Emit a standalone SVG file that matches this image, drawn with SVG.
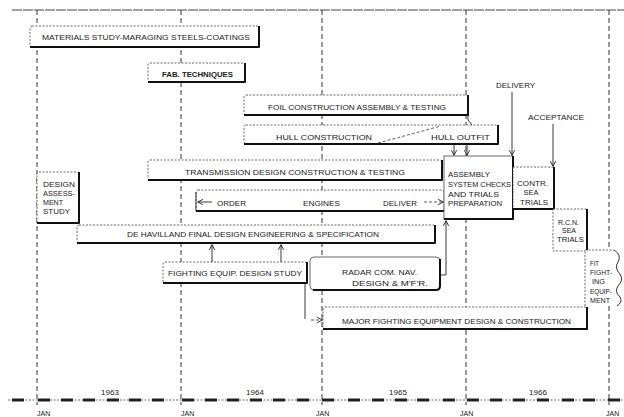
<svg xmlns="http://www.w3.org/2000/svg" width="624" height="417" viewBox="0 0 624 417">
<style>
.bx{fill:#fff;stroke:#444;stroke-width:0.8;stroke-dasharray:2 1.5}
.sh{fill:none;stroke:#111;stroke-width:2;stroke-linejoin:round}
.yl{fill:none;stroke:#333;stroke-width:1;stroke-dasharray:5 3}
.t{font-family:"Liberation Sans",Arial,sans-serif;font-size:8px;fill:#1a1a1a}
.s{font-size:7px}
.c{text-anchor:middle}
.cn{fill:none;stroke:#222;stroke-width:0.9}
.dn{fill:none;stroke:#333;stroke-width:0.8;stroke-dasharray:3 2}
.tk{fill:#222}
</style>
<defs>
<marker id="ah" viewBox="0 0 8 8" refX="7" refY="4" markerWidth="6" markerHeight="6" orient="auto" markerUnits="userSpaceOnUse"><path d="M0.5,0.5 L7.5,4 L0.5,7.5" fill="none" stroke="#222" stroke-width="1.2"/></marker>
</defs>
<rect width="624" height="417" fill="#fff"/>
<g id="timeline">
<line x1="12" y1="10" x2="624" y2="10" stroke="#444" stroke-width="1" stroke-dasharray="10 1"/>
<path class="yl" d="M37 10V405M181 10V405M322 10V405M466 10V405M609 10V405"/>
<line x1="8" y1="400" x2="624" y2="400" stroke="#444" stroke-width="0.8" stroke-dasharray="2 1.5"/>
<g class="tk">
<rect x="12" y="398.5" width="12" height="3"/>
<rect x="38" y="398.5" width="12" height="3"/><rect x="61" y="398.5" width="12" height="3"/><rect x="83" y="398.5" width="12" height="3"/><rect x="107" y="398.5" width="12" height="3"/><rect x="129" y="398.5" width="12" height="3"/><rect x="152" y="398.5" width="12" height="3"/>
<rect x="182" y="398.5" width="12" height="3"/><rect x="205" y="398.5" width="12" height="3"/><rect x="227" y="398.5" width="12" height="3"/><rect x="250" y="398.5" width="12" height="3"/><rect x="273" y="398.5" width="12" height="3"/><rect x="297" y="398.5" width="12" height="3"/>
<rect x="322" y="398.5" width="12" height="3"/><rect x="348" y="398.5" width="12" height="3"/><rect x="372" y="398.5" width="12" height="3"/><rect x="395" y="398.5" width="12" height="3"/><rect x="417" y="398.5" width="12" height="3"/><rect x="443" y="398.5" width="12" height="3"/>
<rect x="467" y="398.5" width="12" height="3"/><rect x="490" y="398.5" width="12" height="3"/><rect x="513" y="398.5" width="12" height="3"/><rect x="537" y="398.5" width="12" height="3"/><rect x="562" y="398.5" width="12" height="3"/><rect x="583" y="398.5" width="12" height="3"/>
<rect x="608" y="398.5" width="12" height="3"/>
</g>
<text class="t c" x="110" y="395">1963</text>
<text class="t c" x="255" y="395">1964</text>
<text class="t c" x="398" y="395">1965</text>
<text class="t c" x="538" y="395">1966</text>
<text class="t s" x="37" y="416">JAN</text>
<text class="t s" x="181" y="416">JAN</text>
<text class="t s" x="316" y="416">JAN</text>
<text class="t s" x="460" y="416">JAN</text>
<text class="t s" x="606" y="416">JAN</text>
</g>
<g id="materials">
<rect class="bx" x="30" y="26" width="229" height="21" rx="2"/>
<path class="sh" d="M259 26V47H30"/>
<text class="t c" x="146" y="40" textLength="208" lengthAdjust="spacingAndGlyphs">MATERIALS STUDY-MARAGING STEELS-COATINGS</text>
</g>
<g id="fab">
<rect class="bx" x="148" y="63" width="97" height="19" rx="2"/>
<path class="sh" d="M245 63V82H148"/>
<text class="t c" x="197.5" y="76.5" font-weight="bold" textLength="71" lengthAdjust="spacingAndGlyphs">FAB. TECHNIQUES</text>
</g>
<g id="foil">
<rect class="bx" x="244" y="95" width="224" height="20" rx="2"/>
<path class="sh" d="M468 95V115H244"/>
<path class="cn" d="M468 115V120L472 125"/>
<text class="t c" x="357" y="110" textLength="178" lengthAdjust="spacingAndGlyphs">FOIL CONSTRUCTION  ASSEMBLY &amp; TESTING</text>
</g>
<g id="hull">
<rect class="bx" x="244" y="125" width="254" height="19" rx="2"/>
<path class="sh" d="M498 125V144H244"/>
<path class="dn" d="M378 143L441 126"/>
<text class="t c" x="324" y="140" textLength="96" lengthAdjust="spacingAndGlyphs">HULL CONSTRUCTION</text>
<text class="t c" x="460.5" y="140" textLength="59" lengthAdjust="spacingAndGlyphs">HULL OUTFIT</text>
</g>
<g id="transmission">
<rect class="bx" x="148" y="160" width="294" height="20" rx="2"/>
<path class="sh" d="M442 160V180H148"/>
<text class="t c" x="295" y="175" textLength="220" lengthAdjust="spacingAndGlyphs">TRANSMISSION DESIGN  CONSTRUCTION &amp; TESTING</text>
</g>
<g id="engines">
<rect class="bx" x="196" y="190" width="248" height="21" rx="2"/>
<path class="sh" d="M444 211H196"/>
<path class="cn" d="M196 192V211"/>
<text class="t c" x="231.5" y="206" textLength="29" lengthAdjust="spacingAndGlyphs">ORDER</text>
<text class="t c" x="321.5" y="206" textLength="37" lengthAdjust="spacingAndGlyphs">ENGINES</text>
<text class="t c" x="400" y="206" textLength="34" lengthAdjust="spacingAndGlyphs">DELIVER</text>
</g>
<g id="assembly">
<rect class="bx" x="444" y="156" width="69" height="63" style="stroke-dasharray:none"/>
<path class="sh" d="M513 156V219H444"/>
<text class="t s" x="448" y="177" textLength="42" lengthAdjust="spacingAndGlyphs">ASSEMBLY</text>
<text class="t s" x="448" y="187" textLength="63" lengthAdjust="spacingAndGlyphs">SYSTEM CHECKS</text>
<text class="t s" x="448" y="197" textLength="51" lengthAdjust="spacingAndGlyphs">AND TRIALS</text>
<text class="t s" x="448" y="206" textLength="54" lengthAdjust="spacingAndGlyphs">PREPARATION</text>
</g>
<g id="contr">
<rect class="bx" x="513" y="167" width="41" height="42"/>
<path class="sh" d="M554 167V209H513"/>
<text class="t s c" x="532.5" y="186" textLength="31" lengthAdjust="spacingAndGlyphs">CONTR.</text>
<text class="t s c" x="531" y="195" textLength="15" lengthAdjust="spacingAndGlyphs">SEA</text>
<text class="t s c" x="534" y="205" textLength="28" lengthAdjust="spacingAndGlyphs">TRIALS</text>
</g>
<g id="rcn">
<rect class="bx" x="553" y="209" width="34" height="42"/>
<path class="sh" d="M587 209V251"/>
<text class="t s c" x="568.5" y="225" textLength="21" lengthAdjust="spacingAndGlyphs">R.C.N.</text>
<text class="t s c" x="569" y="233" textLength="14" lengthAdjust="spacingAndGlyphs">SEA</text>
<text class="t s c" x="570.5" y="242" textLength="27" lengthAdjust="spacingAndGlyphs">TRIALS</text>
</g>
<g id="fit">
<path d="M585 250H614Q622 255 618 262Q614 268 620 274Q624 280 618 286Q614 292 620 297Q623 302 617 306H585Z" fill="#fff"/>
<path class="bx" d="M585 306V250H614" style="fill:none"/>
<path class="cn" d="M614 250Q622 255 618 262Q614 268 620 274Q624 280 618 286Q614 292 620 297Q623 302 617 306"/>
<text class="t s" x="590" y="266" textLength="9" lengthAdjust="spacingAndGlyphs">FIT</text>
<text class="t s" x="590" y="275" textLength="22" lengthAdjust="spacingAndGlyphs">FIGHT-</text>
<text class="t s" x="592" y="284" textLength="13" lengthAdjust="spacingAndGlyphs">ING</text>
<text class="t s" x="590" y="294" textLength="22" lengthAdjust="spacingAndGlyphs">EQUIP-</text>
<text class="t s" x="590" y="303" textLength="20" lengthAdjust="spacingAndGlyphs">MENT</text>
</g>
<g id="design-assessment">
<rect class="bx" x="37" y="172" width="42" height="51" rx="2"/>
<path class="sh" d="M79 172V223H37"/>
<text class="t s" x="43" y="187" textLength="32" lengthAdjust="spacingAndGlyphs">DESIGN</text>
<text class="t s" x="43" y="196" textLength="32" lengthAdjust="spacingAndGlyphs">ASSESS-</text>
<text class="t s" x="43" y="205" textLength="20" lengthAdjust="spacingAndGlyphs">MENT</text>
<text class="t s" x="43" y="214" textLength="27" lengthAdjust="spacingAndGlyphs">STUDY</text>
</g>
<g id="dehavilland">
<rect class="bx" x="77" y="225" width="358" height="18" rx="2"/>
<path class="sh" d="M435 225V243H77"/>
<text class="t c" x="253" y="237" textLength="252" lengthAdjust="spacingAndGlyphs">DE HAVILLAND FINAL DESIGN ENGINEERING &amp; SPECIFICATION</text>
</g>
<g id="fighting-study">
<rect class="bx" x="163" y="262" width="144" height="21" rx="2"/>
<path class="sh" d="M307 262V283H163"/>
<text class="t c" x="235" y="276" textLength="134" lengthAdjust="spacingAndGlyphs">FIGHTING EQUIP. DESIGN STUDY</text>
</g>
<g id="radar">
<rect class="bx" x="310" y="257" width="130" height="33" rx="4" style="stroke-dasharray:none"/>
<path class="sh" d="M440 259V286Q440 290 436 290H313"/>
<text class="t c" x="379.5" y="275" textLength="75" lengthAdjust="spacingAndGlyphs">RADAR COM. NAV.</text>
<text class="t c" x="390" y="286" textLength="76" lengthAdjust="spacingAndGlyphs">DESIGN &amp; M'F'R.</text>
</g>
<g id="major-fighting">
<rect class="bx" x="323" y="307" width="264" height="22" rx="2"/>
<path class="sh" d="M587 307V329H323"/>
<text class="t c" x="456.5" y="324" textLength="229" lengthAdjust="spacingAndGlyphs">MAJOR FIGHTING EQUIPMENT DESIGN &amp; CONSTRUCTION</text>
</g>
<g id="connectors">
<text class="t c" x="515.5" y="88" textLength="39" lengthAdjust="spacingAndGlyphs">DELIVERY</text>
<text class="t c" x="556" y="120" textLength="56" lengthAdjust="spacingAndGlyphs">ACCEPTANCE</text>
<path class="cn" d="M512 92V155" marker-end="url(#ah)"/>
<path class="cn" d="M553 124V166" marker-end="url(#ah)"/>
<path class="cn" d="M454 145V155" marker-end="url(#ah)"/>
<path class="cn" d="M467 145V155" marker-end="url(#ah)"/>
<path class="cn" d="M212 262V245" marker-end="url(#ah)"/>
<path class="cn" d="M281 262V245" marker-end="url(#ah)"/>
<path class="cn" d="M440 275H446V221" marker-end="url(#ah)"/>
<path class="cn" d="M305 283V319"/>
<path class="dn" d="M311 320H322" marker-end="url(#ah)"/>
<path class="cn" d="M212 202H198" marker-end="url(#ah)"/>
<path class="dn" d="M424 202H443" marker-end="url(#ah)"/>
</g>
</svg>
